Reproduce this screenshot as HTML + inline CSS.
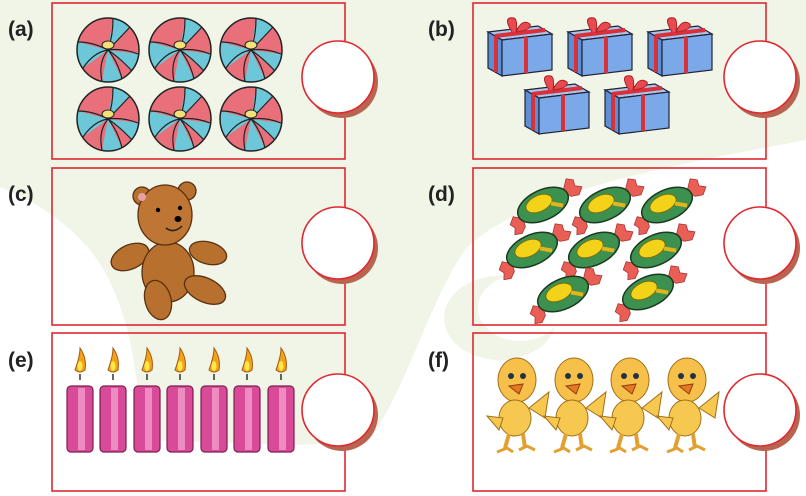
<!DOCTYPE html>
<html><head><meta charset="utf-8"><style>
html,body{margin:0;padding:0;background:#fff;}
svg{display:block;}
text{font-family:"Liberation Sans",sans-serif;font-weight:bold;font-size:21px;fill:#222;}
</style></head><body>
<svg width="806" height="496" viewBox="0 0 806 496" xmlns="http://www.w3.org/2000/svg">
<defs>
<g id="ball">
  <ellipse rx="31" ry="32" fill="#e9707a"/>
  <path d="M0,0 L-30,-8 A31,32 0 0 0 -25,18 Z" fill="#6cc8d8"/>
  <path d="M0,0 L-6,31 A31,32 0 0 0 14,29 Z" fill="#6cc8d8"/>
  <path d="M0,0 L30,4 A31,32 0 0 1 24,21 Z" fill="#6cc8d8"/>
  <path d="M0,0 L5,-31 A31,32 0 0 1 22,-23 Z" fill="#6cc8d8"/>
  <path d="M-30,-8 Q-15,-8 0,0 M-6,31 Q-10,12 0,0 M14,29 Q10,12 0,0 M30,4 Q15,-2 0,0 M5,-31 Q5,-15 0,0 M-25,18 Q-14,2 0,0 M24,21 Q12,8 0,0 M22,-23 Q10,-10 0,0" stroke="#222" stroke-width="1.2" fill="none"/>
  <ellipse rx="31" ry="32" fill="none" stroke="#222" stroke-width="1.5"/>
  <ellipse cx="0" cy="-5" rx="6" ry="4" fill="#f3e27a" stroke="#222"/>
</g>
<g id="gift">
  <path d="M-30,-14 L20,-20 L34,-12 L-16,-6 Z" fill="#a9c6ec" stroke="#223" stroke-width="1.2"/>
  <path d="M-30,-14 L-16,-6 L-16,30 L-30,22 Z" fill="#5b8fd6" stroke="#223" stroke-width="1.2"/>
  <path d="M-16,-6 L34,-12 L34,24 L-16,30 Z" fill="#7ba8e8" stroke="#223" stroke-width="1.2"/>
  <path d="M8,-9 L8,27 M-22,-10 L-22,26 M-23,-10 L27,-16" stroke="#d9303a" stroke-width="4"/>
  <path d="M-6,-14 q-10,-16 2,-14 q4,2 2,14 q6,-14 14,-8 q2,6 -14,8" fill="#e84a4f" stroke="#a22" stroke-width="1"/>
</g>
<g id="candy">
  <g transform="rotate(-25)">
  <path d="M24,-4 l8,-10 l6,4 l-1,6 l6,4 l-6,6 l-8,-2 Z" fill="#ea5f55" stroke="#a33" stroke-width="0.8"/>
  <path d="M-24,4 l-8,-6 l-6,6 l3,5 l-3,6 l7,2 l6,-5 Z" fill="#ea5f55" stroke="#a33" stroke-width="0.8"/>
  <ellipse rx="27" ry="15" fill="#3d9150" stroke="#1b3a1f" stroke-width="1.5"/>
  <ellipse cx="-3" cy="-3" rx="14" ry="8" fill="#f2d31a" stroke="#7a6a10"/>
  <path d="M8,2 L18,9" stroke="#e5b41a" stroke-width="4"/>
  </g>
</g>
<g id="candle">
  <path d="M-5,-28 q5,-14 5,-22 q7,10 5,22 q-5,4 -10,0Z" fill="#f4a21a" stroke="#a35a10"/>
  <ellipse cx="0" cy="-32" rx="2.5" ry="5" fill="#fbe94a"/>
  <path d="M0,-24 v6" stroke="#333" stroke-width="1.5"/>
  <rect x="-13" y="-12" width="26" height="66" rx="4" fill="#d94a98" stroke="#7a2050" stroke-width="1.2"/>
  <rect x="-2" y="-10" width="7" height="62" fill="#f4a8d2" opacity="0.7"/>
</g>
<g id="chick">
  <ellipse cx="0" cy="-22" rx="19" ry="22" fill="#f6c04a" stroke="#a0701a"/>
  <circle cx="-6" cy="-26" r="3" fill="#234"/><circle cx="6" cy="-26" r="3" fill="#234"/>
  <path d="M-8,-16 L6,-18 L2,-8 Z" fill="#e57a20" stroke="#8a3a10"/>
  <ellipse cx="-2" cy="16" rx="16" ry="18" fill="#f7c850" stroke="#a0701a"/>
  <path d="M12,6 L32,-10 L28,16 Z" fill="#f7c850" stroke="#a0701a"/>
  <path d="M-14,16 L-30,14 L-18,28 Z" fill="#f7c850" stroke="#a0701a"/>
  <path d="M-8,32 L-12,46 M6,32 L8,46" stroke="#e2a030" stroke-width="4"/>
  <path d="M-20,50 l10,-4 l6,4 M2,48 l8,-4 l8,4" stroke="#e2a030" stroke-width="3" fill="none"/>
</g>
<g id="circ">
  <circle cx="4" cy="5" r="36" fill="#b86450"/>
  <circle r="36" fill="#fff" stroke="#e0282f" stroke-width="1.6"/>
</g>
</defs>
<!-- background -->
<rect width="806" height="496" fill="#fff"/>
<path d="M0,0 L806,0 L806,140 C700,160 520,190 465,250 C430,300 410,380 370,440 L300,445 L140,440 C140,380 130,300 90,250 C60,215 30,200 0,187 Z" fill="#f0f5e7"/>
<ellipse cx="500" cy="318" rx="56" ry="42" fill="#f0f5e7"/>
<ellipse cx="520" cy="308" rx="42" ry="33" fill="#fff"/>
<!-- boxes -->
<g fill="none" stroke="#e0282f" stroke-width="1.6">
<rect x="52" y="3" width="293" height="156"/>
<rect x="473" y="3" width="293" height="156"/>
<rect x="52" y="168" width="293" height="157"/>
<rect x="473" y="168" width="293" height="157"/>
<rect x="52" y="333" width="293" height="158"/>
<rect x="473" y="333" width="293" height="158"/>
</g>
<text x="8" y="36">(a)</text>
<text x="428" y="36">(b)</text>
<text x="8" y="201">(c)</text>
<text x="428" y="201">(d)</text>
<text x="8" y="367">(e)</text>
<text x="428" y="367">(f)</text>
<!-- balls -->
<use href="#ball" x="108" y="50"/><use href="#ball" x="180" y="50"/><use href="#ball" x="251" y="50"/>
<use href="#ball" x="108" y="119"/><use href="#ball" x="180" y="119"/><use href="#ball" x="251" y="119"/>
<!-- gifts -->
<use href="#gift" x="518" y="46"/><use href="#gift" x="598" y="46"/><use href="#gift" x="678" y="46"/>
<use href="#gift" x="555" y="104"/><use href="#gift" x="635" y="104"/>
<!-- bear -->
<g stroke="#5a3010" stroke-width="1.3" fill="#b8702e">
<ellipse cx="130" cy="257" rx="20" ry="12" transform="rotate(-25 130 257)"/>
<ellipse cx="208" cy="253" rx="19" ry="11" transform="rotate(15 208 253)"/>
<ellipse cx="168" cy="272" rx="26" ry="30"/>
<ellipse cx="205" cy="290" rx="22" ry="12" transform="rotate(25 205 290)"/>
<ellipse cx="158" cy="300" rx="13" ry="20" transform="rotate(-15 158 300)"/>
<circle cx="142" cy="196" r="9"/><circle cx="187" cy="191" r="9"/>
<ellipse cx="165" cy="215" rx="27" ry="30" fill="#bf7634"/>
</g>
<circle cx="142" cy="197" r="4" fill="#e8a0a8"/>
<circle cx="158" cy="210" r="2.2"/><circle cx="180" cy="208" r="2.2"/>
<ellipse cx="178" cy="219" rx="3.5" ry="3"/>
<path d="M166,228 q8,6 16,-2" stroke="#222" stroke-width="1.5" fill="none"/>
<!-- candies -->
<use href="#candy" x="543" y="205"/><use href="#candy" x="605" y="205"/><use href="#candy" x="667" y="205"/>
<use href="#candy" x="532" y="250"/><use href="#candy" x="594" y="250"/><use href="#candy" x="656" y="250"/>
<use href="#candy" x="563" y="294"/><use href="#candy" x="648" y="292"/>
<!-- candles -->
<use href="#candle" x="80" y="398"/><use href="#candle" x="113" y="398"/><use href="#candle" x="147" y="398"/>
<use href="#candle" x="180" y="398"/><use href="#candle" x="214" y="398"/><use href="#candle" x="247" y="398"/><use href="#candle" x="281" y="398"/>
<!-- chicks -->
<use href="#chick" x="517" y="402"/><use href="#chick" x="574" y="402"/><use href="#chick" x="630" y="402"/><use href="#chick" x="687" y="402"/>
<!-- circles -->
<use href="#circ" x="338" y="77"/><use href="#circ" x="760" y="77"/>
<use href="#circ" x="338" y="243"/><use href="#circ" x="760" y="243"/>
<use href="#circ" x="338" y="410"/><use href="#circ" x="760" y="410"/>
</svg>
</body></html>
